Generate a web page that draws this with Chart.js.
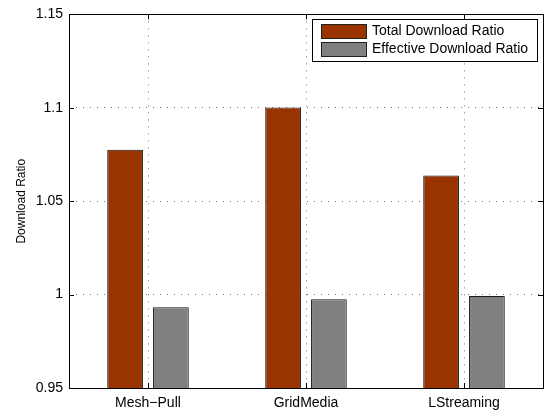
<!DOCTYPE html>
<html>
<head>
<meta charset="utf-8">
<script src="https://cdn.jsdelivr.net/npm/chart.js@4.4.0/dist/chart.umd.min.js"></script>
<style>
  html, body { margin: 0; padding: 0; background: #fff; }
  #wrap { width: 549px; height: 416px; }
</style>
</head>
<body>
<div id="wrap"><canvas id="chart" width="549" height="416"></canvas></div>
<script>
const categories = ['Mesh\u2212Pull', 'GridMedia', 'LStreaming'];
const totalRatio = [1.0775, 1.1002, 1.0638];
const effectiveRatio = [0.9932, 0.9975, 0.9992];
const yTicks = [0.95, 1, 1.05, 1.1, 1.15];

const FONT = 'Liberation Sans, Arial, Helvetica, sans-serif';

// MATLAB-style box, inward ticks and the legend inside the axes
const matlabFrame = {
    id: 'matlabFrame',
    afterDraw(chart) {
        const ctx = chart.ctx;
        const a = chart.chartArea;
        const xs = chart.scales.x;
        const ys = chart.scales.y;
        ctx.save();
        ctx.strokeStyle = '#000';
        ctx.lineWidth = 1;
        ctx.strokeRect(Math.round(a.left) + 0.5, Math.round(a.top) + 0.5,
            Math.round(a.right - a.left), Math.round(a.bottom - a.top));

        ctx.beginPath();
        yTicks.forEach(v => {
            const y = Math.round(ys.getPixelForValue(v)) + 0.5;
            ctx.moveTo(a.left, y); ctx.lineTo(a.left + 5, y);
            ctx.moveTo(a.right, y); ctx.lineTo(a.right - 5, y);
        });
        categories.forEach((c, i) => {
            const x = Math.round(xs.getPixelForValue(i)) + 0.5;
            ctx.moveTo(x, a.bottom); ctx.lineTo(x, a.bottom - 5);
            ctx.moveTo(x, a.top); ctx.lineTo(x, a.top + 5);
        });
        ctx.stroke();

        // legend
        const bx = 312.5, by = 19.5, bw = 225, bh = 42;
        ctx.fillStyle = '#fff';
        ctx.fillRect(bx, by, bw, bh);
        ctx.strokeRect(bx, by, bw, bh);
        ctx.font = '14px ' + FONT;
        ctx.textBaseline = 'middle';
        chart.data.datasets.forEach((ds, i) => {
            const cy = 30.5 + i * 18.5;
            ctx.fillStyle = ds.backgroundColor;
            ctx.fillRect(321.5, Math.round(cy - 7) + 0.5, 45, 14);
            ctx.strokeStyle = '#222';
            ctx.strokeRect(321.5, Math.round(cy - 7) + 0.5, 45, 14);
            ctx.fillStyle = '#000';
            ctx.fillText(ds.label, 372, cy + 0.5);
        });
        ctx.restore();
    }
};

const ctx = document.getElementById('chart').getContext('2d');
new Chart(ctx, {
    type: 'bar',
    data: {
        labels: categories,
        datasets: [{
            label: 'Total Download Ratio',
            data: totalRatio,
            backgroundColor: '#993300',
            borderColor: '#1a1a1a',
            borderWidth: 1
        }, {
            label: 'Effective Download Ratio',
            data: effectiveRatio,
            backgroundColor: '#808080',
            borderColor: '#1a1a1a',
            borderWidth: 1
        }]
    },
    options: {
        responsive: false,
        animation: false,
        devicePixelRatio: 1,
        layout: { padding: { top: 11, right: 6, left: 0, bottom: 0 } },
        datasets: {
            bar: { categoryPercentage: 0.58, barPercentage: 0.78 }
        },
        plugins: {
            legend: { display: false },
            tooltip: { enabled: false }
        },
        scales: {
            x: {
                grid: {
                    offset: false,
                    color: 'rgba(0,0,0,0.55)',
                    drawTicks: false
                },
                border: { display: false, dash: [1, 6] },
                ticks: {
                    color: '#000',
                    padding: 7,
                    font: { family: FONT, size: 14 }
                },
                afterFit: s => { s.height = 28; }
            },
            y: {
                min: 0.95,
                max: 1.15,
                afterBuildTicks: s => { s.ticks = yTicks.map(v => ({ value: v })); },
                grid: {
                    color: 'rgba(0,0,0,0.55)',
                    drawTicks: false
                },
                border: { display: false, dash: [1, 6] },
                ticks: {
                    color: '#000',
                    padding: 6,
                    font: { family: FONT, size: 14 },
                    callback: v => String(Math.round(v * 100) / 100)
                },
                title: {
                    display: true,
                    text: 'Download Ratio',
                    color: '#000',
                    padding: { top: 14, bottom: 0 },
                    font: { family: FONT, size: 12 }
                },
                afterFit: s => { s.width = 69; }
            }
        }
    },
    plugins: [matlabFrame]
});
</script>
</body>
</html>
